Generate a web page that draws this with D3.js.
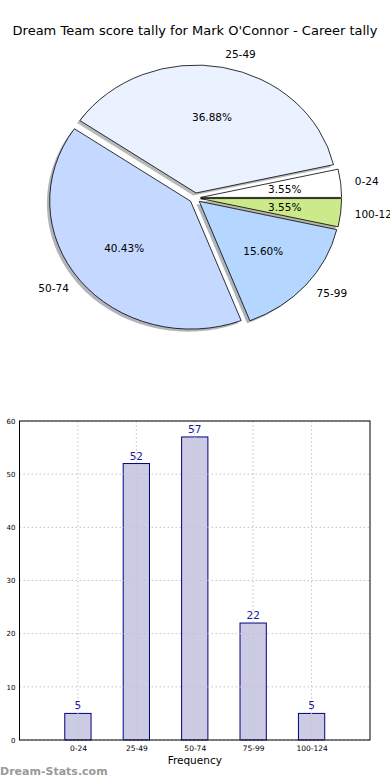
<!DOCTYPE html>
<html>
<head>
<meta charset="utf-8">
<script src="https://cdn.jsdelivr.net/npm/d3@7"></script>
<style>
  body { margin: 0; background: #fff; }
  svg { display: block; font-family: "DejaVu Sans", sans-serif; }
</style>
</head>
<body>
<div id="chart"></div>
<script>
// score bands and how many games fell in each
var categories = ["0-24", "25-49", "50-74", "75-99", "100-124"];
var counts = [5, 52, 57, 22, 5];
var pieColors = ["#ffffff", "#eaf1ff", "#c5d8ff", "#b5d6ff", "#cdea8a"];
var yTicks = [0, 10, 20, 30, 40, 50, 60];

var width = 390,
    height = 780;

var svg = d3.select("#chart")
            .append("svg")
            .attr("width", width)
            .attr("height", height);

svg.append("text")
   .attr("x", 195)
   .attr("y", 35)
   .attr("text-anchor", "middle")
   .style("font-size", "13px")
   .text("Dream Team score tally for Mark O'Connor - Career tally");

// ---- pie (matplotlib style: starts at 3 o'clock, counter-clockwise, elliptical) ----
var cx = 195, cy = 198, rx = 141, ry = 128;
var explode = 0.04;
var total = d3.sum(counts);

var pie = d3.pie()
            .sort(null)
            .startAngle(Math.PI / 2)
            .endAngle(Math.PI / 2 - 2 * Math.PI)
            .value(function(d) { return d; })(counts);

var arc = d3.arc().innerRadius(0).outerRadius(1);

function mid(d) { return (d.startAngle + d.endAngle) / 2; }

var pieG = svg.append("g")
              .attr("transform", "translate(" + cx + "," + cy + ") scale(" + rx + "," + ry + ")");

// shadows go behind every wedge
pieG.selectAll(".shadow")
    .data(pie)
    .enter().append("path")
    .attr("class", "shadow")
    .attr("d", arc)
    .attr("transform", function(d) {
      var a = mid(d);
      return "translate(" + (explode * Math.sin(a) - 0.02) + "," + (-explode * Math.cos(a) + 0.02) + ")";
    })
    .style("fill", function(d, i) { return d3.rgb(pieColors[i]).darker(2.5); })
    .style("opacity", 0.45);

pieG.selectAll(".wedge")
    .data(pie)
    .enter().append("path")
    .attr("class", "wedge")
    .attr("d", arc)
    .attr("transform", function(d) {
      var a = mid(d);
      return "translate(" + (explode * Math.sin(a)) + "," + (-explode * Math.cos(a)) + ")";
    })
    .attr("vector-effect", "non-scaling-stroke")
    .style("fill", function(d, i) { return pieColors[i]; })
    .style("stroke", "#000")
    .style("stroke-width", "0.8");

// category labels at 1.1 r, percentages at 0.6 r
svg.selectAll(".plabel")
   .data(pie)
   .enter().append("text")
   .attr("class", "plabel")
   .attr("x", function(d) { return cx + (1.1 + explode) * rx * Math.sin(mid(d)); })
   .attr("y", function(d) { return cy - (1.1 + explode) * ry * Math.cos(mid(d)); })
   .attr("dy", "0.35em")
   .attr("text-anchor", function(d) { return Math.sin(mid(d)) > 0 ? "start" : "end"; })
   .style("font-size", "10.5px")
   .text(function(d, i) { return categories[i]; });

svg.selectAll(".pct")
   .data(pie)
   .enter().append("text")
   .attr("class", "pct")
   .attr("x", function(d) { return cx + (0.6 + explode) * rx * Math.sin(mid(d)); })
   .attr("y", function(d) { return cy - (0.6 + explode) * ry * Math.cos(mid(d)); })
   .attr("dy", "0.35em")
   .attr("text-anchor", "middle")
   .style("font-size", "10.5px")
   .text(function(d) { return (100 * d.data / total).toFixed(2) + "%"; });

// ---- bar chart ----
var plotLeft = 19.5, plotRight = 370, plotTop = 421, plotBottom = 740;
var barWidth = 0.45;

var x = d3.scaleLinear().domain([-1, 5]).range([plotLeft, plotRight]);
var y = d3.scaleLinear().domain([0, 60]).range([plotBottom, plotTop]);

function drawGrid(g) {
  g.selectAll(".gx")
   .data(categories)
   .enter().append("line")
   .attr("x1", function(d, i) { return x(i); })
   .attr("x2", function(d, i) { return x(i); })
   .attr("y1", plotTop)
   .attr("y2", plotBottom);

  g.selectAll(".gy")
   .data(yTicks)
   .enter().append("line")
   .attr("x1", plotLeft)
   .attr("x2", plotRight)
   .attr("y1", function(d) { return y(d); })
   .attr("y2", function(d) { return y(d); });
}

svg.selectAll(".bar")
   .data(counts)
   .enter().append("rect")
   .attr("class", "bar")
   .attr("x", function(d, i) { return x(i - barWidth / 2); })
   .attr("width", x(barWidth) - x(0))
   .attr("y", function(d) { return y(d); })
   .attr("height", function(d) { return y(0) - y(d); })
   .style("fill", "#cbcbe3")
   .style("stroke", "#000080")
   .style("stroke-width", "1");

// dotted grid drawn on top of the bars
svg.append("g")
   .style("stroke", "#c4c4c4")
   .style("stroke-dasharray", "1.5,2.5")
   .call(drawGrid);

svg.selectAll(".val")
   .data(counts)
   .enter().append("text")
   .attr("class", "val")
   .attr("x", function(d, i) { return x(i); })
   .attr("y", function(d) { return y(d) - 4; })
   .attr("text-anchor", "middle")
   .style("font-size", "10.5px")
   .style("fill", "#1a1a9a")
   .text(function(d) { return d; });

svg.append("rect")
   .attr("x", plotLeft)
   .attr("y", plotTop)
   .attr("width", plotRight - plotLeft)
   .attr("height", plotBottom - plotTop)
   .style("fill", "none")
   .style("stroke", "#000")
   .style("stroke-width", "1");

var xAxis = d3.axisBottom(x)
              .tickValues(d3.range(categories.length))
              .tickSize(0)
              .tickPadding(6)
              .tickFormat(function(i) { return categories[i]; });

svg.append("g")
   .attr("transform", "translate(0," + plotBottom + ")")
   .call(xAxis)
   .call(function(g) { g.select(".domain").remove(); })
   .selectAll("text")
   .style("font-family", "DejaVu Sans")
   .style("font-size", "7.5px")
   .style("fill", "#000");

var yAxis = d3.axisLeft(y)
              .tickValues(yTicks)
              .tickSize(0)
              .tickPadding(4);

svg.append("g")
   .attr("transform", "translate(" + plotLeft + ",0)")
   .call(yAxis)
   .call(function(g) { g.select(".domain").remove(); })
   .selectAll("text")
   .style("font-family", "DejaVu Sans")
   .style("font-size", "7px")
   .style("fill", "#000");

svg.append("text")
   .attr("x", (plotLeft + plotRight) / 2)
   .attr("y", 764)
   .attr("text-anchor", "middle")
   .style("font-size", "10.5px")
   .text("Frequency");

svg.append("text")
   .attr("x", 0)
   .attr("y", 775)
   .style("font-size", "11px")
   .style("font-weight", "bold")
   .style("fill", "#999")
   .text("Dream-Stats.com");
</script>
</body>
</html>
